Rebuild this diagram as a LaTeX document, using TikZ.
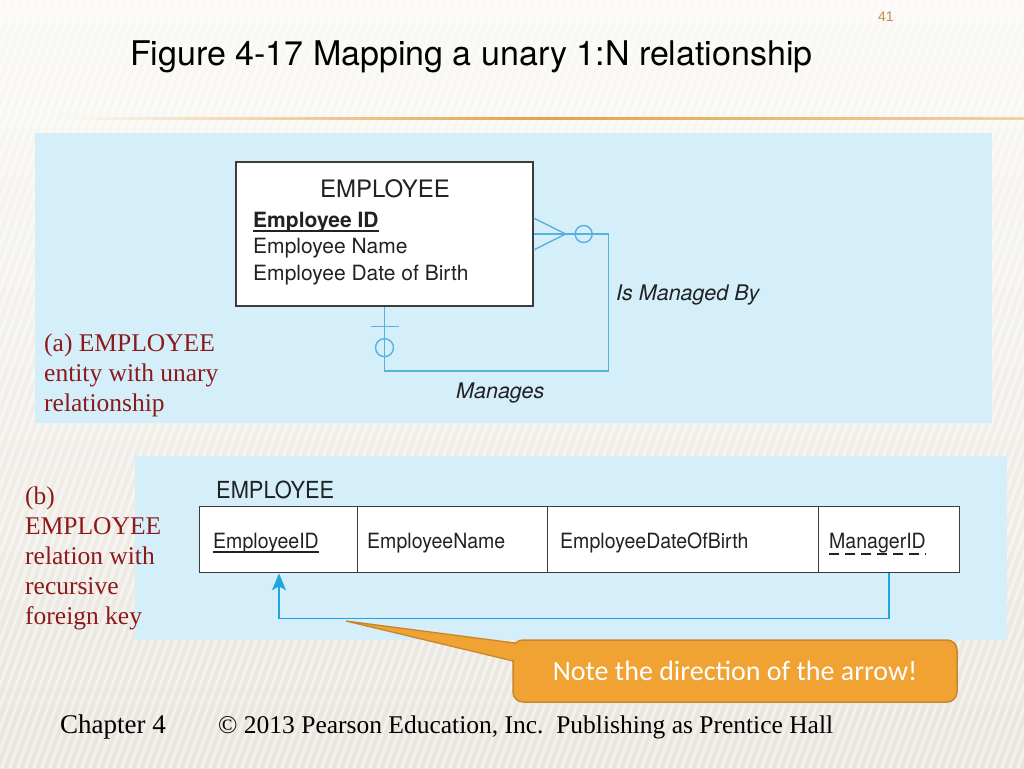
\documentclass[tikz,border=0pt]{standalone}
\usepackage{fontspec}
\usepackage{graphicx}
\setmainfont{Liberation Serif}
\newfontfamily\helv{TeX Gyre Heros}
\newfontfamily\calib{Carlito}
\newfontfamily\arialf{Liberation Sans}
\usetikzlibrary{arrows.meta,calc}
\definecolor{panel}{HTML}{D4EEFA}
\definecolor{erblue}{HTML}{55B2E0}
\definecolor{fkblue}{HTML}{1FA5E0}
\definecolor{labred}{HTML}{8C1A1A}
\definecolor{calfill}{HTML}{F0A232}
\definecolor{caledge}{HTML}{C8862A}
\definecolor{pgnum}{HTML}{C0904A}
\definecolor{gold}{HTML}{E4A24A}
\definecolor{ink}{HTML}{222222}
\definecolor{boxedge}{HTML}{3C3C3C}
\definecolor{bgtop}{HTML}{FAF9F5}
\definecolor{bgbot}{HTML}{E8E5DD}
\newcommand{\narrowtxt}[1]{\scalebox{0.93}[1]{#1}}
\begin{document}
\begin{tikzpicture}[x=1pt,y=-1pt,
  ertxt/.style={inner sep=0, text=ink},
  erline/.style={draw=erblue, line width=1.4pt},
  erit/.style={inner sep=0, anchor=base west, text=ink, font=\helv\itshape\fontsize{21.5}{21.5}\selectfont},
  lab/.style={inner sep=0, anchor=north west, align=left, text=labred, font=\fontsize{25.5}{30}\selectfont},
  cell/.style={draw=boxedge, fill=white, line width=1.3pt, minimum height=66pt, inner sep=0, anchor=north west},
  ctxt/.style={inner sep=0, anchor=base west, text=ink, font=\helv\fontsize{21}{21}\selectfont},
  fkline/.style={draw=fkblue, line width=1.6pt, -{Stealth[length=17pt,width=14pt,inset=4pt]}},
  callout/.style={draw=caledge, fill=calfill, line width=1.5pt, rounded corners=10pt, minimum width=444pt, minimum height=62pt, text=white, font=\calib\fontsize{28}{28}\selectfont, inner sep=0},
  foot/.style={inner sep=0, anchor=base west}
]
\useasboundingbox (0,0) rectangle (1024,768);
% background
\shade[top color=bgtop, bottom color=bgbot] (0,0) rectangle (1024,768);
\begin{scope}
  \clip (0,0) rectangle (1024,768);
  \foreach \i in {-40,...,130} {
    \fill[white, opacity=0.45] (\i*8,768) -- ++(3.5,0) -- ++(280,-768) -- ++(-3.5,0) -- cycle;
  }
\end{scope}
% gold rule
\shade[left color=bgtop, right color=gold!45!bgtop, middle color=gold] (60,117) rectangle (1024,119.5);
% page number and title
\node[inner sep=0, anchor=base west, text=pgnum, font=\arialf\fontsize{14}{14}\selectfont] (pg) at (878,22) {41};
\node[inner sep=0, anchor=base west, font=\helv\fontsize{34}{34}\selectfont] (title) at (130,66) {Figure 4-17 Mapping a unary 1:N relationship};
% panels
\fill[panel] (35,133) rectangle (992,423);
\fill[panel] (135,456) rectangle (1007,640);
% (a) ER diagram
\node[draw=boxedge, fill=white, line width=1.3pt, minimum width=297pt, minimum height=144pt, inner sep=0] (emp) at (384.5,234) {};
\node[ertxt, anchor=base, font=\helv\fontsize{24}{24}\selectfont] (ename) at (385,197) {EMPLOYEE};
\node[ertxt, anchor=base west, font=\helv\bfseries\fontsize{21}{21}\selectfont] (eid) at (253,227) {Employee ID};
\node[ertxt, anchor=base west, font=\helv\fontsize{21}{21}\selectfont] (enm) at (253,253) {Employee Name};
\node[ertxt, anchor=base west, font=\helv\fontsize{21}{21}\selectfont] (edob) at (253,280) {Employee Date of Birth};
\draw[ink, line width=1.3pt] ($(eid.base west)+(0,4)$) -- ($(eid.base east)+(0,4)$);
% crow's foot and relationship line
\draw[erline] ($(emp.east)+(0,-16)$) -- ($(emp.east)+(32,0)$) -- ($(emp.east)+(0,16)$);
\draw[erline] (emp.east) -- ++(75,0) -- ++(0,137) -| (emp.south);
\draw[erline] ($(emp.east)+(50,0)$) circle (8.5);
\draw[erline] ($(emp.south)+(0,41)$) circle (9);
\draw[erline] ($(emp.south)+(-14,20)$) -- ++(28,0);
\node[erit] (ismb) at (616,300) {Is Managed By};
\node[erit] (mng) at (456,398) {Manages};
\node[lab] (la) at (44,334) {(a) EMPLOYEE\\entity with unary\\relationship};
% (b) relation
\node[lab] (lb) at (25,487) {(b)\\EMPLOYEE\\relation with\\recursive\\foreign key};
\node[inner sep=0, anchor=base west, text=ink, font=\helv\fontsize{23.5}{23.5}\selectfont] (rname) at (216,498) {\narrowtxt{EMPLOYEE}};
\node[cell, minimum width=158pt] (c1) at (199,506) {};
\node[cell, minimum width=190pt] (c2) at (357,506) {};
\node[cell, minimum width=271pt] (c3) at (547,506) {};
\node[cell, minimum width=141pt] (c4) at (818,506) {};
\node[ctxt] (t1) at (213,548) {\narrowtxt{EmployeeID}};
\node[ctxt] (t2) at (367,548) {\narrowtxt{EmployeeName}};
\node[ctxt] (t3) at (560,548) {\narrowtxt{EmployeeDateOfBirth}};
\node[ctxt] (t4) at (829,548) {\narrowtxt{ManagerID}};
\draw[ink, line width=1.3pt] ($(t1.base west)+(0,4)$) -- ($(t1.base east)+(0,4)$);
\draw[ink, line width=1.3pt, dash pattern=on 10pt off 6pt] ($(t4.base west)+(0,6)$) -- ($(t4.base east)+(0,6)$);
\draw[fkline] ($(c4.south west)+(71,0)$) -- ++(0,45) -| ($(c1.south west)+(80,0)$);
% callout
\path[draw=caledge, line width=1.3pt, fill=calfill] (346,621) -- (530,645) -- (530,665) -- cycle;
\node[callout] (note) at (735,671) {Note the direction of the arrow!};
\fill[calfill] (505,642.8) -- (525,645.4) -- (525,662.8) -- (505,658.0) -- cycle;
% footer
\node[foot, font=\fontsize{27}{27}\selectfont] (chap) at (60,733) {Chapter 4};
\node[foot, font=\fontsize{25.5}{25.5}\selectfont] (copy) at (218,733) {© 2013 Pearson Education, Inc.\ \ Publishing as Prentice Hall};
\end{tikzpicture}
\end{document}
